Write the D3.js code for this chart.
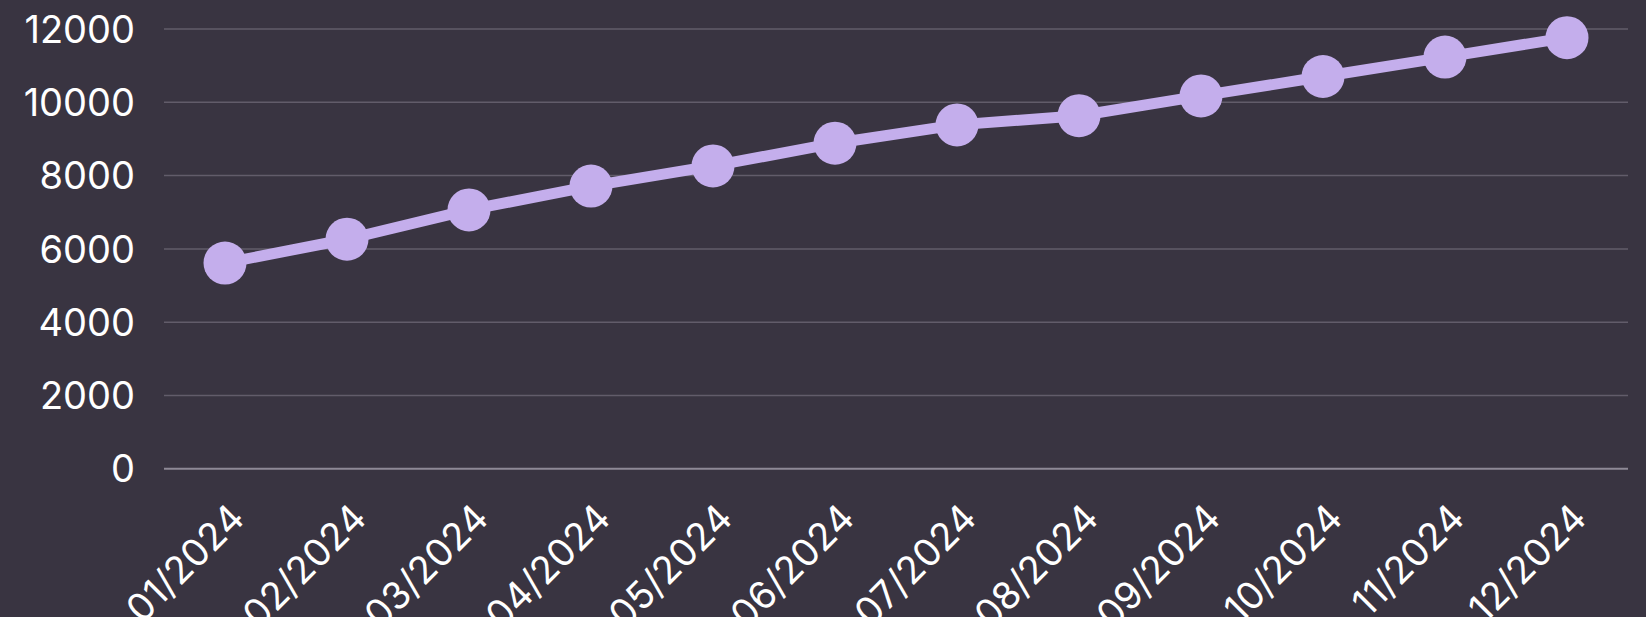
<!DOCTYPE html>
<html lang="en">
<head>
    <meta charset="UTF-8">
    <title>Monthly trend 2024</title>
    <script src="https://d3js.org/d3.v7.min.js"></script>
    <style>
        html, body { margin: 0; padding: 0; background: #393441; }
        svg { display: block; }
    </style>
</head>
<body>

<svg id="chart" width="1646" height="617"></svg>

<script>
    // data
    const months = ["01/2024", "02/2024", "03/2024", "04/2024", "05/2024", "06/2024",
                    "07/2024", "08/2024", "09/2024", "10/2024", "11/2024", "12/2024"];
    const values = [5600, 6250, 7050, 7700, 8250, 8870, 9370, 9620, 10160, 10690, 11220, 11750];
    const yTicks = [0, 2000, 4000, 6000, 8000, 10000, 12000];

    const fontFamily = "Inter, 'Noto Sans', sans-serif";

    const svg = d3.select("#chart");
    const width = +svg.attr("width");
    const height = +svg.attr("height");
    const margin = { top: 28.5, right: 18, bottom: 148.7, left: 164 };
    const chartWidth = width - margin.left - margin.right;
    const chartHeight = height - margin.top - margin.bottom;

    svg.append("rect")
        .attr("width", width)
        .attr("height", height)
        .attr("fill", "#393441");

    const g = svg.append("g")
        .attr("transform", `translate(${margin.left},${margin.top})`);

    const x = d3.scalePoint().domain(months).range([0, chartWidth]).padding(0.5);
    const y = d3.scaleLinear().domain([0, 12000]).range([chartHeight, 0]);

    // y axis + gridlines
    const yAxis = g.append("g")
        .call(d3.axisLeft(y).tickValues(yTicks).tickFormat(d3.format("d"))
            .tickSize(-chartWidth).tickPadding(29))
        .attr("font-family", fontFamily)
        .attr("font-size", 38);
    yAxis.select(".domain").remove();
    yAxis.selectAll(".tick line")
        .attr("stroke", d => d === 0 ? "#8e8996" : "#625c6a")
        .attr("stroke-width", d => d === 0 ? 2 : 1.5);
    yAxis.selectAll(".tick text")
        .attr("fill", "#ffffff")
        .attr("dy", "0.36em");

    // x axis labels, rotated
    const xAxis = g.append("g")
        .attr("transform", `translate(0,${chartHeight})`)
        .call(d3.axisBottom(x).tickSize(0))
        .attr("font-family", fontFamily)
        .attr("font-size", 38);
    xAxis.select(".domain").remove();
    xAxis.selectAll(".tick text")
        .attr("fill", "#ffffff")
        .attr("text-anchor", "end")
        .attr("y", 0)
        .attr("dy", 0)
        .attr("transform", "translate(21,52) rotate(-45)");

    // line
    const data = months.map((m, i) => ({ month: m, value: values[i] }));
    const line = d3.line()
        .x(d => x(d.month))
        .y(d => y(d.value));

    g.append("path")
        .datum(data)
        .attr("fill", "none")
        .attr("stroke", "#c4aeec")
        .attr("stroke-width", 11)
        .attr("stroke-linejoin", "round")
        .attr("d", line);

    g.selectAll(".dot")
        .data(data)
        .enter().append("circle")
        .attr("class", "dot")
        .attr("cx", d => x(d.month))
        .attr("cy", d => y(d.value))
        .attr("r", 21.5)
        .attr("fill", "#c4aeec");
</script>

</body>
</html>
